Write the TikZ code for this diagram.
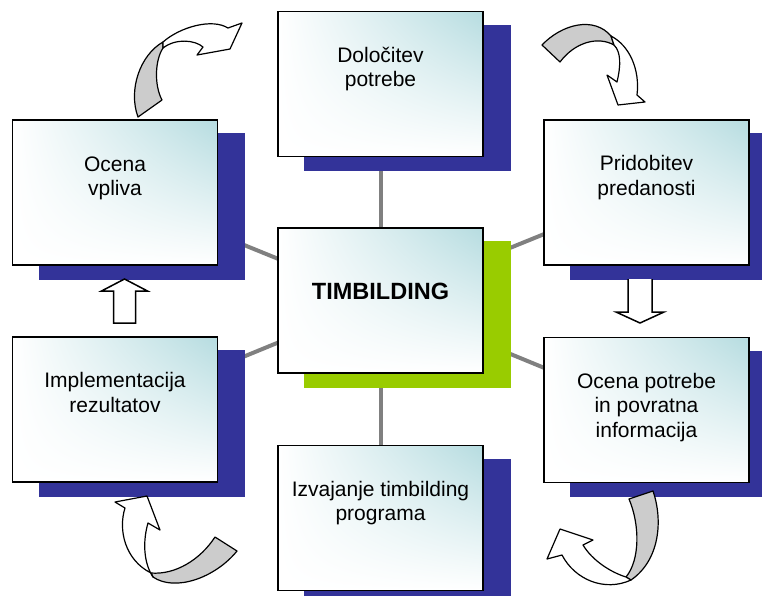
\documentclass[tikz,border=0pt]{standalone}
\usepackage{fontspec}
\setmainfont{Liberation Sans}
\usetikzlibrary{backgrounds,shadings}
\definecolor{shadowblue}{RGB}{51,51,153}
\definecolor{limegreen}{RGB}{153,204,0}
\definecolor{linkgrey}{RGB}{128,128,128}
\definecolor{boxteal}{RGB}{182,220,224}
\definecolor{arrowgrey}{RGB}{204,204,204}
\begin{document}
\begin{tikzpicture}[x=1pt,y=-1pt,
  box/.style={draw=black, line width=1.5pt, minimum width=205pt, minimum height=145pt,
    inner sep=0pt, upper left=white, lower left=white, lower right=white, upper right=boxteal},
  lbl/.style={font=\fontsize{21}{24.5}\selectfont, align=center, inner sep=0pt, anchor=north},
  link/.style={draw=linkgrey, line width=4pt},
  backface/.style={draw=black, fill=arrowgrey, line width=1.2pt, line join=round},
  frontface/.style={draw=black, fill=white, line width=1.2pt, line join=round},
  blockarrow/.style={draw=black, fill=white, line width=1.5pt, line join=miter}
]
\useasboundingbox (0,0) rectangle (762,595);
\clip (0,0) rectangle (762,595);

% boxes
\node[box] (T)  at (380.5,84)   {};
\node[box] (LT) at (115,192.5)  {};
\node[box] (RT) at (646.5,192.5){};
\node[box] (C)  at (380.5,300.5){};
\node[box] (LB) at (115,409.5)  {};
\node[box] (RB) at (646.5,410)  {};
\node[box] (B)  at (380.5,518)  {};

% texts
\node[lbl] (Tt)  at ([yshift=-36pt]T.north)  {Določitev\\potrebe};
\node[lbl] (LTt) at ([yshift=-37pt]LT.north) {Ocena\\vpliva};
\node[lbl] (RTt) at ([yshift=-36pt]RT.north) {Pridobitev\\predanosti};
\node[lbl] (LBt) at ([yshift=-36pt]LB.north) {Implementacija\\rezultatov};
\node[lbl] (RBt) at ([yshift=-36pt]RB.north) {Ocena potrebe\\in povratna\\informacija};
\node[lbl] (Bt)  at ([yshift=-36pt]B.north)  {Izvajanje timbilding\\programa};
\node[font=\fontsize{23.5}{27}\selectfont\bfseries, inner sep=0pt, anchor=base] (Ct)
  at ([yshift=-72pt]C.north) {TIMBILDING};

\begin{scope}[on background layer]
  \draw[link] (C.center) -- (T.center);
  \draw[link] (C.center) -- (LT.center);
  \draw[link] (C.center) -- (RT.center);
  \draw[link] (C.center) -- (LB.center);
  \draw[link] (C.center) -- (RB.center);
  \draw[link] (C.center) -- (B.center);
  \foreach \n in {T,LT,RT,LB,RB,B}{
    \fill[shadowblue] ([shift={(27,14)}]\n.north west) rectangle ([shift={(27,14)}]\n.south east);
  }
  \fill[limegreen] ([shift={(27,14)}]C.north west) rectangle ([shift={(27,14)}]C.south east);
\end{scope}

% block arrows
\draw[blockarrow] (113.5,323) -- (113.5,291) -- (101.5,291) -- (124.5,279) -- (147.5,291)
  -- (135.5,291) -- (135.5,323) -- cycle;
\draw[blockarrow] (628,279) -- (628,312) -- (616,312) -- (640,323) -- (664,312)
  -- (652,312) -- (652,279);

% curved arrow top-left
\draw[backface] (138,117) .. controls (128,90) and (140,55) .. (163,42) -- (163,48)
  .. controls (155,60) and (154,85) .. (162,100) -- cycle;
\draw[frontface] (163,42) .. controls (180,27) and (212,18) .. (228,28) -- (242,23)
  -- (230,49) -- (197,55) -- (203,47) .. controls (195,40) and (176,38) .. (163,48) -- cycle;

% curved arrow top-right
\draw[backface] (542,45) .. controls (562,24) and (594,16) .. (611,36) -- (614,45)
  .. controls (598,36) and (575,42) .. (560,62) -- cycle;
\draw[frontface] (611,36) .. controls (630,46) and (640,70) .. (637,95) -- (645,102)
  -- (618,105) -- (607,75) -- (617,82) .. controls (621,65) and (621,52) .. (614,45) -- cycle;

% curved arrow bottom-left
\draw[backface] (215,537) .. controls (200,560) and (175,575) .. (151,573) -- (153,577)
  .. controls (175,592) and (215,578) .. (237,551) -- cycle;
\draw[frontface] (151,573) .. controls (125,560) and (118,530) .. (125,508) -- (115,502)
  -- (147,496) -- (160,530) -- (148,523) .. controls (143,540) and (143,562) .. (153,577) -- cycle;

% curved arrow bottom-right
\draw[backface] (629,499) .. controls (640,525) and (640,560) .. (626,577) -- (631,580)
  .. controls (660,560) and (663,520) .. (653,491) -- cycle;
\draw[frontface] (626,577) .. controls (610,572) and (592,560) .. (583,545) -- (593,540)
  -- (560,529) -- (547,559) -- (562,555) .. controls (575,580) and (605,592) .. (631,580) -- cycle;
\end{tikzpicture}
\end{document}
